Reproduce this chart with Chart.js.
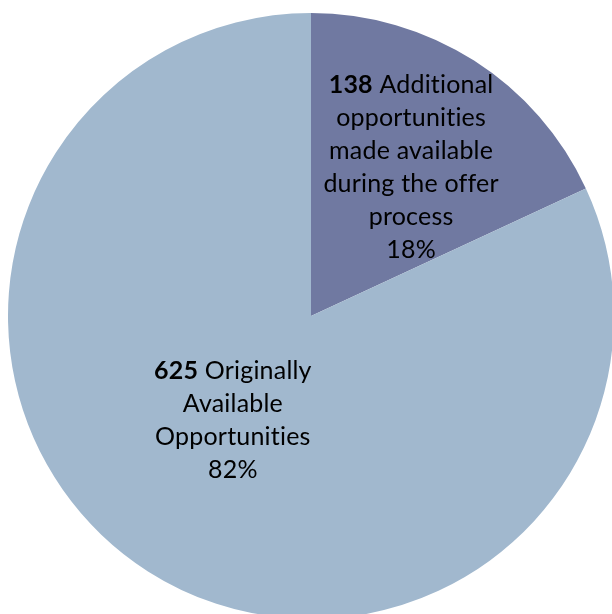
<!DOCTYPE html>
<html>
<head>
<meta charset="utf-8">
<script src="https://cdn.jsdelivr.net/npm/chart.js@4/dist/chart.umd.min.js"></script>
<style>
  html, body { margin: 0; padding: 0; background: #fff; overflow: hidden; width: 612px; height: 614px; }
  #wrap { position: absolute; left: 8px; top: 13px; width: 606px; height: 606px; }
</style>
</head>
<body>
<div id="wrap"><canvas id="pie" width="606" height="606"></canvas></div>
<script>
// slice counts, clockwise from 12 o'clock
const counts = [138, 625];
const captions = [
    ['Additional', 'opportunities', 'made available', 'during the offer', 'process'],
    ['Originally', 'Available', 'Opportunities']
];
const sliceColors = ['#7079A1', '#A1B8CE'];

// draws "<bold count> caption..." and the percent inside each slice
const sliceLabels = {
    id: 'sliceLabels',
    afterDatasetsDraw(chart, args, opts) {
        const ctx = chart.ctx;
        const meta = chart.getDatasetMeta(0);
        const total = counts.reduce((a, b) => a + b, 0);
        const lineH = opts.lineHeight;
        meta.data.forEach((arc, i) => {
            const p = arc.getProps(['x', 'y', 'startAngle', 'endAngle', 'outerRadius'], true);
            const mid = (p.startAngle + p.endAngle) / 2 + opts.angleShift[i];
            const r = p.outerRadius * opts.radius[i];
            const cx = p.x + Math.cos(mid) * r;
            const cy = p.y + Math.sin(mid) * r;
            const lines = captions[i].slice(1);
            lines.push(Math.round(counts[i] / total * 100) + '%');
            const n = lines.length + 1;
            let y = cy - (n - 1) * lineH / 2;

            ctx.save();
            ctx.fillStyle = '#000';
            ctx.textBaseline = 'middle';
            ctx.letterSpacing = '0.2px'; // keeps Lato from using its "ti" ligature
            // first line: bold number + first caption word(s)
            const boldFont = 'bold ' + opts.size + 'px ' + opts.family;
            const normFont = opts.size + 'px ' + opts.family;
            const num = String(counts[i]);
            const rest = ' ' + captions[i][0];
            ctx.font = boldFont;
            const w1 = ctx.measureText(num).width;
            ctx.font = normFont;
            const w2 = ctx.measureText(rest).width;
            let x0 = cx - (w1 + w2) / 2;
            ctx.textAlign = 'left';
            ctx.font = boldFont;
            ctx.fillText(num, x0, y);
            ctx.font = normFont;
            ctx.fillText(rest, x0 + w1, y);
            ctx.textAlign = 'center';
            lines.forEach(line => {
                y += lineH;
                ctx.fillText(line, cx, y);
            });
            ctx.restore();
        });
    }
};

new Chart(document.getElementById('pie'), {
    type: 'pie',
    data: {
        labels: captions.map(c => c.join(' ')),
        datasets: [{
            data: counts,
            backgroundColor: sliceColors,
            borderWidth: 0
        }]
    },
    options: {
        responsive: false,
        animation: false,
        layout: { padding: 0 },
        plugins: {
            legend: { display: false },
            tooltip: { enabled: false },
            sliceLabels: {
                family: 'Lato, "Liberation Sans", sans-serif',
                size: 25,
                lineHeight: 33,
                radius: [0.59, 0.43],
                angleShift: [0.026, 0.075]
            }
        }
    },
    plugins: [sliceLabels]
});
</script>
</body>
</html>
